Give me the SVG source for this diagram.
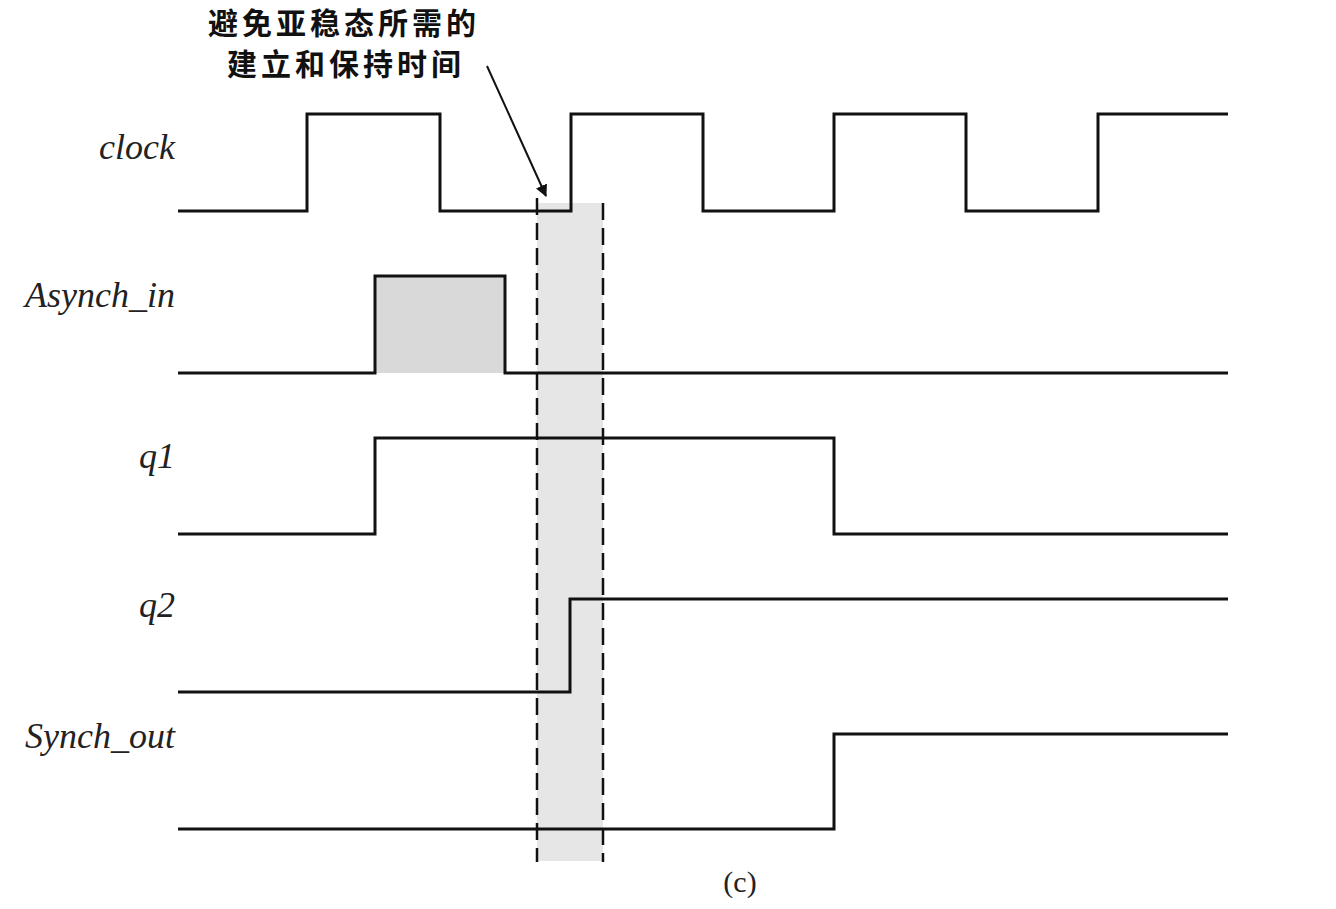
<svg xmlns="http://www.w3.org/2000/svg" width="1336" height="909" viewBox="0 0 1336 909">
<style>
.sig{fill:none;stroke:#111;stroke-width:3;stroke-linejoin:miter}
.lbl{font-family:"Liberation Serif",serif;font-style:italic;font-size:36px;fill:#222;text-anchor:end}
.cn{font-family:"Noto Sans CJK SC",sans-serif;font-weight:bold;font-size:30px;fill:#111;letter-spacing:4px}
.dash{stroke:#111;stroke-width:2.5;stroke-dasharray:17,8;fill:none}
</style>
<defs>
<marker id="ah" markerWidth="12" markerHeight="12" refX="11" refY="6" orient="auto" markerUnits="userSpaceOnUse" viewBox="0 0 12 12">
<path d="M0,0 L12,6 L0,12 z" fill="#111"/>
</marker>
</defs>
<rect width="1336" height="909" fill="#fff"/>
<g id="band">
<rect x="537" y="203" width="66" height="658" fill="#e6e6e6"/>
</g>
<g id="asynch-fill"><rect x="375" y="276" width="130" height="97" fill="#d9d9d9"/></g>
<g id="clock">
<text class="lbl" x="175" y="159">clock</text>
<path class="sig" d="M178,211 H307 V114 H440 V211 H571 V114 H703 V211 H834 V114 H966 V211 H1098 V114 H1228"/>
</g>
<g id="asynch_in">
<text class="lbl" x="175" y="307">Asynch_in</text>
<path class="sig" d="M178,373 H375 V276 H505 V373 H1228"/>
</g>
<g id="q1">
<text class="lbl" x="175" y="468">q1</text>
<path class="sig" d="M178,534 H375 V438 H834 V534 H1228"/>
</g>
<g id="q2">
<text class="lbl" x="175" y="617">q2</text>
<path class="sig" d="M178,692 H570 V599 H1228"/>
</g>
<g id="synch_out">
<text class="lbl" x="175" y="748">Synch_out</text>
<path class="sig" d="M178,829 H834 V734 H1228"/>
</g>
<g id="connectors">
<line class="dash" x1="537" y1="198" x2="537" y2="862"/>
<line class="dash" x1="603" y1="203" x2="603" y2="862"/>
<line x1="487" y1="66" x2="546" y2="196" stroke="#111" stroke-width="2" marker-end="url(#ah)"/>
</g>
<g id="annotation">
<text class="cn" x="208" y="34">避免亚稳态所需的</text>
<text class="cn" x="227" y="75">建立和保持时间</text>
</g>
<text x="740" y="892" font-family="Liberation Serif, serif" font-size="30" fill="#222" text-anchor="middle">(c)</text>
</svg>
